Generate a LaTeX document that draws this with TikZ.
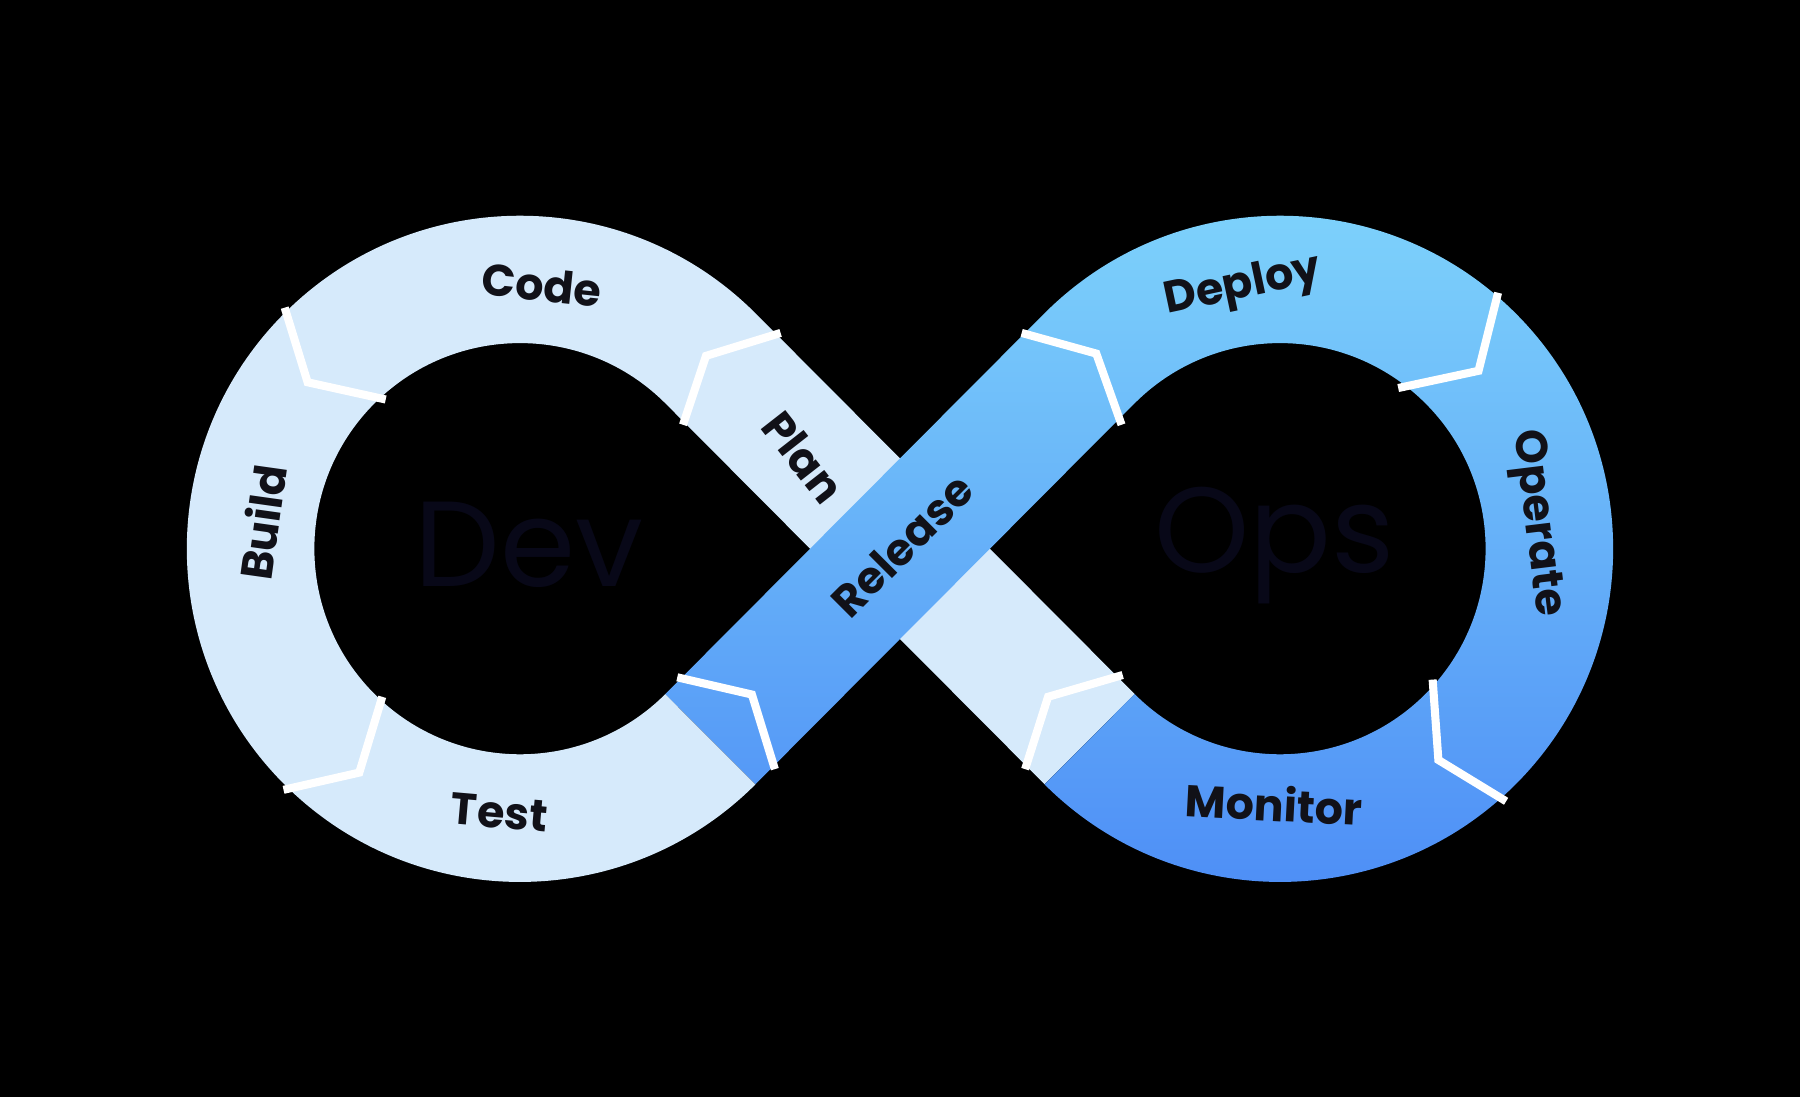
\documentclass[tikz,border=0pt]{standalone}
\usepackage{fontspec}
\setmainfont{Poppins}
\definecolor{lightc}{HTML}{D6EAFB}
\definecolor{btop}{HTML}{7FD4FB}
\definecolor{bmid}{HTML}{1EA8F8}
\definecolor{bbot}{HTML}{4C8CF6}
\definecolor{txt}{HTML}{111118}
\definecolor{ghost}{HTML}{080818}
\begin{document}
\begin{tikzpicture}[x=0.01cm,y=0.01cm,
  lbl/.style={font=\fontsize{11}{13}\selectfont\bfseries, text=txt},
  big/.style={font=\fontsize{30}{34}\selectfont, text=ghost},
  div/.style={draw=white, line width=2pt, line join=miter}]
\fill[black] (-784,-478) rectangle (784,478);
\node[big] (dev) at (-323,3) {Dev};
\node[big] (ops) at (326,3) {Ops};
% light part
\fill[lightc] (204.4,-126.6) -- (-125.9,205.1) arc[start angle=45,end angle=315,radius=2.9cm]
  -- (-204.4,-126.6) arc[start angle=315,end angle=45,radius=1.79cm] -- (125.9,-205.1) -- cycle;
% blue part
\shade[top color=btop, middle color=bmid, bottom color=bbot]
  (-204.4,-126.6) -- (125.9,205.1) arc[start angle=135,end angle=-135,radius=2.9cm]
  -- (204.4,-126.6) arc[start angle=-135,end angle=135,radius=1.79cm] -- (-125.9,-205.1) -- cycle;
% dividers
\draw[div] (-536,210) -- (-516,145) -- (-448,130);
\draw[div] (-451,-129) -- (-471,-195) -- (-537,-210);
\draw[div] (-104,188) -- (-169,168) -- (-189,108);
\draw[div] (-194,-112) -- (-129,-127) -- (-109,-192);
\draw[div] (106,188) -- (171,170) -- (193,108);
\draw[div] (521,223) -- (504,155) -- (434,140);
\draw[div] (464,-114) -- (469,-184) -- (528,-220);
\draw[div] (194,-110) -- (129,-129) -- (109,-192);
% labels
\node[lbl, rotate=-6] (code) at (-312,230) {Code};
\node[lbl, rotate=82] (build) at (-556,23) {Build};
\node[lbl, rotate=-5] (test) at (-349,-230) {Test};
\node[lbl, rotate=-52] (plan) at (-84,80) {Plan};
\node[lbl, rotate=45] (release) at (2,3) {Release};
\node[lbl, rotate=12] (deploy) at (299,228) {Deploy};
\node[lbl, rotate=-83] (operate) at (554,22) {Operate};
\node[lbl, rotate=-3] (monitor) at (326,-222) {Monitor};
\end{tikzpicture}
\end{document}
